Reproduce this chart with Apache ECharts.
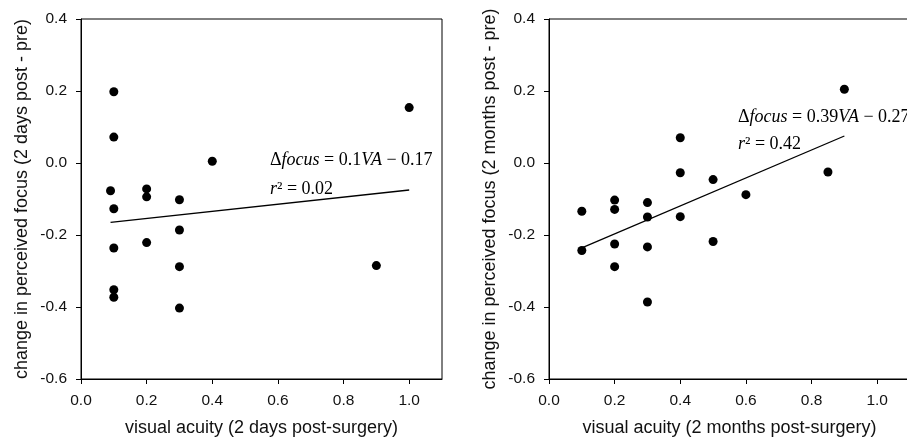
<!DOCTYPE html>
<html>
<head>
<meta charset="utf-8">
<script src="https://cdn.jsdelivr.net/npm/echarts@6/dist/echarts.min.js"></script>
<style>
  html, body { margin: 0; padding: 0; background: #fff; }
  #chart { width: 907px; height: 438px; }
</style>
</head>
<body>
<div id="chart"></div>
<script>
// left panel: 2 days post-surgery
var daysX = [0.1, 0.1, 0.09, 0.1, 0.1, 0.1, 0.1, 0.2, 0.2, 0.2, 0.3, 0.3, 0.3, 0.3, 0.4, 1.0, 0.9]
var daysY = [0.198, 0.072, -0.077, -0.127, -0.236, -0.352, -0.373, -0.072, -0.094, -0.221, -0.102, -0.186, -0.288, -0.403, 0.005, 0.154, -0.285]
var daysFitX = [0.09, 1.0]
var daysFitY = [-0.165, -0.075]

// right panel: 2 months post-surgery
var monthsX = [0.1, 0.1, 0.2, 0.2, 0.2, 0.2, 0.3, 0.3, 0.3, 0.3, 0.4, 0.4, 0.4, 0.5, 0.5, 0.6, 0.85, 0.9]
var monthsY = [-0.134, -0.243, -0.103, -0.129, -0.225, -0.288, -0.110, -0.150, -0.233, -0.386, 0.070, -0.027, -0.149, -0.046, -0.218, -0.088, -0.025, 0.205]
var monthsFitX = [0.1, 0.9]
var monthsFitY = [-0.236, 0.075]

var xTitles = ["visual acuity (2 days post-surgery)", "visual acuity (2 months post-surgery)"]
var yTitles = ["change in perceived focus (2 days post - pre)", "change in perceived focus (2 months post - pre)"]

var sans = "Liberation Sans, Arial, sans-serif"
var serif = "Liberation Serif, Times New Roman, serif"

function pairs(xs, ys) {
	return xs.map(function(x, i) {
		return [x, ys[i]]
	})
}

function xAxisFor(i) {
	return {
		type: "value",
		gridIndex: i,
		min: 0,
		max: 1.1,
		interval: 0.2,
		name: xTitles[i],
		nameLocation: "middle",
		nameGap: 40,
		nameTextStyle: { fontFamily: sans, fontSize: 18, color: "#111" },
		splitLine: { show: false },
		axisLine: { onZero: false, lineStyle: { color: "#000", width: 1 } },
		axisTick: { length: 5, lineStyle: { color: "#000" } },
		axisLabel: {
			showMaxLabel: false,
			margin: 14,
			fontFamily: sans,
			fontSize: 15.5,
			color: "#111",
			formatter: function(v) {
				return v.toFixed(1)
			}
		}
	}
}

function yAxisFor(i) {
	return {
		type: "value",
		gridIndex: i,
		min: -0.6,
		max: 0.4,
		interval: 0.2,
		name: yTitles[i],
		nameLocation: "middle",
		nameRotate: 90,
		nameGap: 50,
		nameTextStyle: { fontFamily: sans, fontSize: 18, color: "#111" },
		splitLine: { show: false },
		axisLine: { onZero: false, lineStyle: { color: "#000", width: 1 } },
		axisTick: { length: 5, lineStyle: { color: "#000" } },
		axisLabel: {
			margin: 14,
			fontFamily: sans,
			fontSize: 15.5,
			color: "#111",
			formatter: function(v) {
				return v.toFixed(1)
			}
		}
	}
}

var eqRich = {
	n: { fontFamily: serif, fontSize: 18, color: "#111" },
	i: { fontFamily: serif, fontSize: 18, fontStyle: "italic", color: "#111" }
}

function eqText(x, y, txt) {
	return {
		type: "text",
		x: x,
		y: y,
		style: {
			text: txt,
			rich: eqRich,
			verticalAlign: "middle"
		}
	}
}

var option = {
	backgroundColor: "#fff",
	animation: false,
	grid: [
		{ left: 81, top: 19, width: 361, height: 360, outerBoundsMode: "none", show: true, borderColor: "#000", borderWidth: 1 },
		{ left: 549, top: 19, width: 361, height: 360, outerBoundsMode: "none", show: true, borderColor: "#000", borderWidth: 1 }
	],
	xAxis: [xAxisFor(0), xAxisFor(1)],
	yAxis: [yAxisFor(0), yAxisFor(1)],
	series: [
		{
			type: "scatter",
			xAxisIndex: 0,
			yAxisIndex: 0,
			symbolSize: 9,
			itemStyle: { color: "#000", opacity: 1 },
			data: pairs(daysX, daysY)
		},
		{
			type: "line",
			xAxisIndex: 0,
			yAxisIndex: 0,
			showSymbol: false,
			lineStyle: { color: "#000", width: 1.3 },
			data: pairs(daysFitX, daysFitY)
		},
		{
			type: "scatter",
			xAxisIndex: 1,
			yAxisIndex: 1,
			symbolSize: 9,
			itemStyle: { color: "#000", opacity: 1 },
			data: pairs(monthsX, monthsY)
		},
		{
			type: "line",
			xAxisIndex: 1,
			yAxisIndex: 1,
			showSymbol: false,
			lineStyle: { color: "#000", width: 1.3 },
			data: pairs(monthsFitX, monthsFitY)
		}
	],
	graphic: [
		eqText(270, 160, "{n|\u0394}{i|focus}{n| = 0.1}{i|VA}{n| \u2212 0.17}"),
		eqText(270, 189, "{i|r}{n|\u00b2 = 0.02}"),
		eqText(738, 117, "{n|\u0394}{i|focus}{n| = 0.39}{i|VA}{n| \u2212 0.27}"),
		eqText(738, 144, "{i|r}{n|\u00b2 = 0.42}")
	]
}

var chart = echarts.init(document.getElementById("chart"))
chart.setOption(option)
</script>
</body>
</html>
